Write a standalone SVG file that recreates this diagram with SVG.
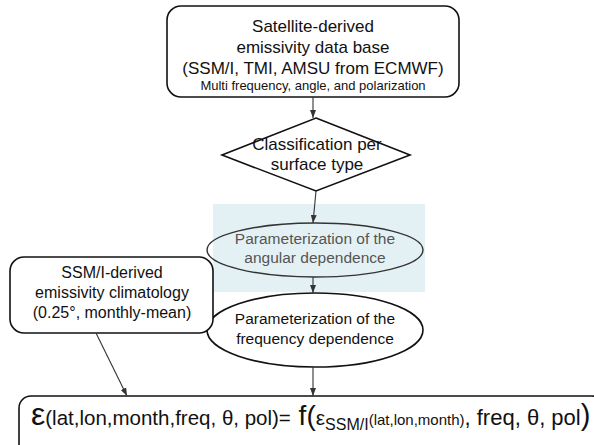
<svg xmlns="http://www.w3.org/2000/svg" width="594" height="445" viewBox="0 0 594 445">
<defs>
<style>
.box{fill:#fff;stroke:#111;stroke-width:1.6}
.t{font-family:"Liberation Sans",Arial,sans-serif;fill:#111;text-anchor:middle}
.g{fill:#555}
.edge{stroke:#333;stroke-width:1.1;fill:none}
</style>
<marker id="ah" viewBox="0 0 10 10" refX="10" refY="5" markerWidth="8" markerHeight="6" orient="auto" markerUnits="userSpaceOnUse" preserveAspectRatio="none">
<path d="M0,0 L10,5 L0,10 z" fill="#333"/>
</marker>
</defs>
<rect width="594" height="445" fill="#fff"/>
<rect x="213" y="204" width="212" height="88" fill="#e4f1f4"/>
<g id="n-top">
<rect class="box" x="167" y="6" width="292" height="91" rx="14"/>
<text class="t" x="313" y="32" font-size="17">Satellite-derived</text>
<text class="t" x="313" y="53" font-size="17">emissivity data base</text>
<text class="t" x="313" y="74" font-size="17">(SSM/I, TMI, AMSU from ECMWF)</text>
<text class="t" x="313" y="90" font-size="13">Multi frequency, angle, and polarization</text>
</g>
<g id="n-class">
<polygon class="box" points="316,118 410,155 316,191 222,155"/>
<text class="t" x="317" y="150" font-size="17">Classification per</text>
<text class="t" x="317" y="170" font-size="17">surface type</text>
</g>
<g id="n-angular">
<ellipse cx="315" cy="250" rx="108" ry="27" fill="none" stroke="#333" stroke-width="1.4"/>
<text class="t g" x="315" y="244" font-size="15.5">Parameterization of the</text>
<text class="t g" x="315" y="263" font-size="15.5">angular dependence</text>
</g>
<g id="n-freq">
<ellipse class="box" cx="315" cy="330" rx="108" ry="37"/>
<text class="t" x="315" y="324" font-size="15.5">Parameterization of the</text>
<text class="t" x="315" y="344" font-size="15.5">frequency dependence</text>
</g>
<g id="n-clim">
<rect class="box" x="10" y="257" width="203" height="76" rx="14"/>
<text class="t" x="112" y="278" font-size="16">SSM/I-derived</text>
<text class="t" x="112" y="298" font-size="16">emissivity climatology</text>
<text class="t" x="112" y="318" font-size="16">(0.25°, monthly-mean)</text>
</g>
<g id="n-eq">
<rect class="box" x="19" y="396" width="585" height="70" rx="12"/>
<text x="31" y="425" font-family="'Liberation Sans',Arial,sans-serif" fill="#111"><tspan font-size="32">ε</tspan><tspan font-size="20.5">(lat,lon,month,freq, θ, pol)=</tspan><tspan font-size="28"> f(</tspan><tspan font-size="21">ε</tspan><tspan font-size="16" dy="5">SSM/I</tspan><tspan font-size="15" dy="-5">(lat,lon,month)</tspan><tspan font-size="22">, freq, θ, pol</tspan><tspan font-size="29">)</tspan></text>
</g>
<g id="connectors">
<line class="edge" x1="313" y1="97" x2="313" y2="118" marker-end="url(#ah)"/>
<line class="edge" x1="316" y1="191" x2="313" y2="223" marker-end="url(#ah)"/>
<line class="edge" x1="313" y1="277" x2="313" y2="293" marker-end="url(#ah)"/>
<line class="edge" x1="313" y1="367" x2="313" y2="396" marker-end="url(#ah)"/>
<line class="edge" x1="96" y1="333" x2="127" y2="396" marker-end="url(#ah)"/>
</g>
</svg>
